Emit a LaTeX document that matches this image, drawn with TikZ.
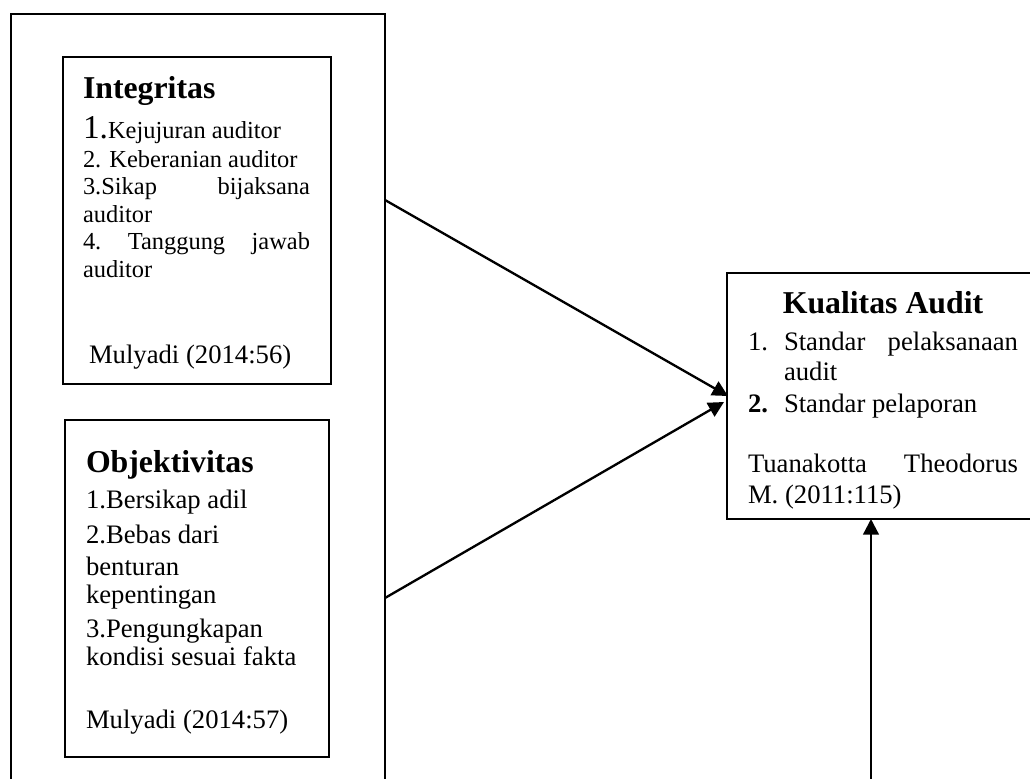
\documentclass[tikz,border=0pt]{standalone}
\usepackage{fontspec}
\setmainfont{Liberation Serif}
\usetikzlibrary{arrows.meta,calc}
\tikzset{
  boxnode/.style={draw, line width=1.05pt, inner sep=0pt, outer sep=0pt, anchor=north west},
  txt/.style={anchor=base west, inner sep=0pt, outer sep=0pt, font=\fontsize{12}{14}\selectfont},
  smalltxt/.style={txt, font=\fontsize{11}{13}\selectfont},
  headtxt/.style={txt, font=\fontsize{14.3}{16}\selectfont\bfseries},
  conn/.style={line width=1.05pt, -{Triangle[length=7pt,width=7pt]}}
}
\begin{document}
\begin{tikzpicture}[x=0.45pt,y=-0.45pt]
\useasboundingbox (0,0) rectangle (1030,779);
\clip (0,0) rectangle (1030,779);
% boxes
\node[boxnode, minimum width=168.3pt, minimum height=353.7pt] (outer) at (11,14) {};
\node[boxnode, minimum width=120.6pt, minimum height=147.15pt] (integ) at (63,57) {};
\node[boxnode, minimum width=118.8pt, minimum height=151.65pt] (objek) at (65,420) {};
\node[boxnode, minimum width=145.35pt, minimum height=110.7pt] (kual) at (727,273) {};
% Integritas text
\node[headtxt] (ih) at (83,98) {Integritas};
\node[smalltxt] (i1) at (83,138) {{\fontsize{15}{16}\selectfont 1.}Kejujuran auditor};
\node[smalltxt] (i2) at (83,167) {2. Keberanian auditor};
\node[smalltxt, text width=102.15pt] (i3) at (83,194) {3.Sikap\hfill bijaksana};
\node[smalltxt] (i3b) at (83,222) {auditor};
\node[smalltxt, text width=102.15pt] (i4) at (83,249) {4.\hfill Tanggung\hfill jawab};
\node[smalltxt] (i4b) at (83,277) {auditor};
\node[txt] (isrc) at (89,363) {Mulyadi (2014:56)};
% Objektivitas text
\node[headtxt] (oh) at (86,472) {Objektivitas};
\node[txt] (o1) at (86,508) {1.Bersikap adil};
\node[txt] (o2) at (86,543) {2.Bebas dari};
\node[txt] (o2b) at (86,575) {benturan};
\node[txt] (o2c) at (86,603) {kepentingan};
\node[txt] (o3) at (86,637) {3.Pengungkapan};
\node[txt] (o3b) at (86,665) {kondisi sesuai fakta};
\node[txt] (osrc) at (86,728) {Mulyadi (2014:57)};
% Kualitas Audit text
\node[headtxt, anchor=base] (kh) at (883,313) {Kualitas Audit};
\node[txt] (k1n) at (748,350) {1.};
\node[txt, text width=105.3pt] (k1) at (784,350) {Standar\hfill pelaksanaan};
\node[txt] (k1b) at (784,380) {audit};
\node[txt] (k2n) at (748,412) {\textbf{2.}};
\node[txt] (k2) at (784,412) {Standar pelaporan};
\node[txt, text width=121.5pt] (ks1) at (748,472) {Tuanakotta\hfill Theodorus};
\node[txt] (ks2) at (748,503) {M. (2011:115)};
% connectors
\coordinate (s1) at ($(outer.north east)+(0,186)$);
\coordinate (s2) at ($(outer.north east)+(0,584)$);
\coordinate (e1) at ($(kual.north west)+(1,123)$);
\coordinate (e2) at ($(kual.north west)+(-3,129)$);
\coordinate (s3) at (871,800);
\draw[conn] (s1) -- (e1);
\draw[conn] (s2) -- (e2);
\draw[conn] (s3) -- (s3 |- kual.south);
\end{tikzpicture}
\end{document}
